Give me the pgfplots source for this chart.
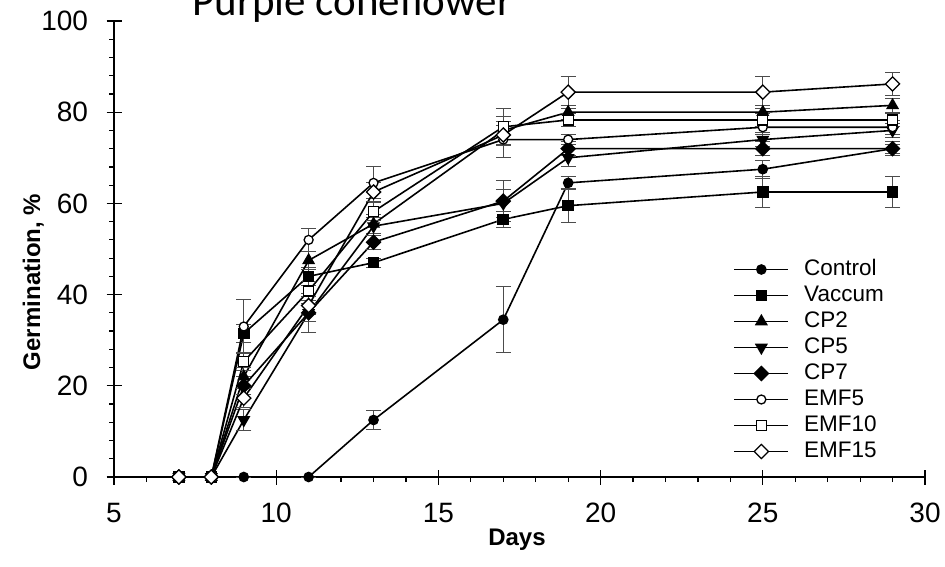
\documentclass[border=0pt]{standalone}
\usepackage{pgfplots}
\pgfplotsset{compat=1.18}
\usepackage{pgfplotstable}
\usepackage{fontspec}
\setmainfont{Liberation Sans}
\newfontfamily\calibri{Carlito}

% columns: day, value, error
\pgfplotstableread{
x y e
7 0 0
8 0 0
9 0 0
11 0 0
13 12.5 2
17 34.5 7.2
19 64.5 1.5
25 67.5 2
29 72 1
}\control
\pgfplotstableread{
x y e
7 0 0
8 0 0
9 31.5 2
11 44 2
13 47 1
17 56.5 1.8
19 59.5 3.7
25 62.5 3.5
29 62.5 3.5
}\vaccum
\pgfplotstableread{
x y e
7 0 0
8 0 0
9 22 2
11 47.5 2
13 55.5 2
17 76 3
19 80 1.5
25 80 1.5
29 81.5 1.5
}\cptwo
\pgfplotstableread{
x y e
7 0 0
8 0 0
9 12.5 2.2
11 36 2
13 55 2
17 60 3
19 70 2
25 74 1.5
29 76 1.5
}\cpfive
\pgfplotstableread{
x y e
7 0 0
8 0 0
9 20 2
11 36 4.3
13 51.5 1.5
17 60.5 4.5
19 72 1.5
25 72 1.5
29 72 1.5
}\cpseven
\pgfplotstableread{
x y e
7 0 0
8 0 0
9 33 6
11 52 2.6
13 64.5 3.5
17 74 4
19 74 1
25 76.7 1.5
29 76.7 1.5
}\emffive
\pgfplotstableread{
x y e
7 0 0
8 0 0
9 25.3 2
11 40.8 2
13 58.2 2
17 76.8 4
19 78.3 1.5
25 78.3 1.5
29 78.3 1.5
}\emften
\pgfplotstableread{
x y e
7 0 0
8 0 0
9 17.3 2
11 37.6 2
13 62.5 2
17 75 2
19 84.4 3.5
25 84.4 3.5
29 86.2 2.5
}\emffifteen

\begin{document}
\begin{tikzpicture}[x=1pt,y=1pt]
\begin{axis}[
  scale only axis,
  width=811pt, height=456pt,
  at={(114pt,89pt)}, anchor=south west,
  xmin=5, xmax=30, ymin=0, ymax=100,
  axis x line*=bottom, axis y line*=left,
  axis line style={-, line width=1.3pt},
  xtick={5,10,...,30}, ytick={0,20,...,100},
  minor x tick num=4, minor y tick num=4,
  tick align=outside,
  major tick length=7.5pt, minor tick length=5pt,
  every tick/.style={black, line width=1.2pt},
  extra x ticks={5,10,...,30}, extra x tick labels={},
  extra y ticks={0,20,...,100}, extra y tick labels={},
  extra tick style={tick align=inside, major tick length=7.5pt},
  /pgf/number format/assume math mode=true,
  tick label style={font=\fontsize{28}{32}\selectfont},
  xticklabel style={yshift=-15pt},
  yticklabel style={xshift=-15pt},
  clip=false,
  error bars/y dir=both, error bars/y explicit,
  error bars/error bar style={line width=1pt, black!70},
  error bars/error mark options={rotate=90, mark size=7.5pt, line width=1pt, black!70},
  legend style={draw=none, fill=none, at={(axis cs:24.0,48.4)}, anchor=north west,
    font=\fontsize{22.5}{26}\selectfont,
    nodes={inner sep=0pt, text height=17pt, text depth=5pt, anchor=west},
    row sep=4pt, /tikz/every odd column/.append style={column sep=15pt}},
  legend cell align=left,
  legend image code/.code={\draw[mark repeat=2,mark phase=2] plot coordinates {(0pt,0pt) (27pt,0pt) (54pt,0pt)};},
]
\addplot[black, solid, line width=1.6pt, mark=*, mark size=4.5pt, mark options={solid, fill=black}] table[x=x,y=y,y error=e] {\control};
\addlegendentry{Control}
\addplot[black, solid, line width=1.6pt, mark=square*, mark size=5pt, mark options={solid, fill=black}] table[x=x,y=y,y error=e] {\vaccum};
\addlegendentry{Vaccum}
\addplot[black, solid, line width=1.6pt, mark=triangle*, mark size=6pt, mark options={solid, fill=black}] table[x=x,y=y,y error=e] {\cptwo};
\addlegendentry{CP2}
\addplot[black, solid, line width=1.6pt, mark=triangle*, mark size=6pt, mark options={solid, fill=black, rotate=180}] table[x=x,y=y,y error=e] {\cpfive};
\addlegendentry{CP5}
\addplot[black, solid, line width=1.6pt, mark=square*, mark size=4.8pt, mark options={solid, fill=black, rotate=45}] table[x=x,y=y,y error=e] {\cpseven};
\addlegendentry{CP7}
\addplot[black, solid, line width=1.6pt, mark=*, mark size=4.5pt, mark options={solid, fill=white, line width=1.3pt}] table[x=x,y=y,y error=e] {\emffive};
\addlegendentry{EMF5}
\addplot[black, solid, line width=1.6pt, mark=square*, mark size=5pt, mark options={solid, fill=white, line width=1.3pt}] table[x=x,y=y,y error=e] {\emften};
\addlegendentry{EMF10}
\addplot[black, solid, line width=1.6pt, mark=square*, mark size=5pt, mark options={solid, fill=white, rotate=45, line width=1.3pt}] table[x=x,y=y,y error=e] {\emffifteen};
\addlegendentry{EMF15}
\end{axis}
\node[font=\bfseries\fontsize{24}{28}\selectfont, anchor=base] at (517pt,21pt) {Days};
\node[font=\bfseries\fontsize{24}{28}\selectfont, rotate=90, anchor=base] at (40pt,284pt) {Germination, \%};
\node[font=\calibri\fontsize{43}{50}\selectfont, anchor=base west] at (189pt,550pt) {Purple coneflower};
\pgfresetboundingbox
\path[use as bounding box] (0,0) rectangle (945pt,566pt);
\end{tikzpicture}
\end{document}
